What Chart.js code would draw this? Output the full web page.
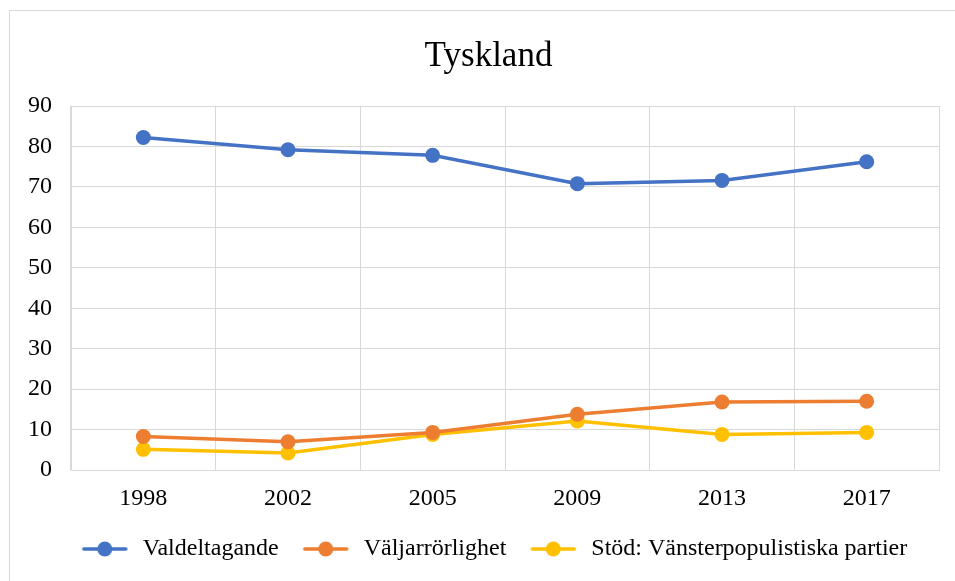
<!DOCTYPE html>
<html>
<head>
<meta charset="utf-8">
<script src="https://cdn.jsdelivr.net/npm/chart.js@4/dist/chart.umd.min.js"></script>
<style>
  html, body { margin: 0; padding: 0; background: #ffffff; }
  #wrap { position: relative; width: 955px; height: 581px; overflow: hidden; }
  #frame { position: absolute; left: 9px; top: 10px; width: 960px; height: 600px; border: 1px solid #d9d9d9; box-sizing: border-box; }
  canvas { position: absolute; left: 0; top: 0; }
</style>
</head>
<body>
<div id="wrap">
  <div id="frame"></div>
  <canvas id="c" width="955" height="581"></canvas>
</div>
<script>
const years = ["1998", "2002", "2005", "2009", "2013", "2017"];
const valdeltagande = [82.2, 79.2, 77.8, 70.8, 71.6, 76.2];
const valjarrorlighet = [8.3, 7.0, 9.3, 13.8, 16.8, 17.0];
const vansterpopulism = [5.1, 4.2, 8.8, 12.1, 8.8, 9.3];
const seriesNames = ["Valdeltagande", "Väljarrörlighet", "Stöd: Vänsterpopulistiska partier"];
const yTicks = [0, 10, 20, 30, 40, 50, 60, 70, 80, 90];
const colors = ["#4472C4", "#ED7D31", "#FFC000"];

// legend marker: line with dot, with a transparent margin left (item spacing) and right (gap to text)
function legendMarker(color) {
  const cv = document.createElement('canvas');
  cv.width = 61; cv.height = 18;
  const g = cv.getContext('2d');
  g.strokeStyle = color; g.lineWidth = 3.5; g.lineCap = 'round';
  g.beginPath(); g.moveTo(14, 9); g.lineTo(56, 9); g.stroke();
  g.fillStyle = color;
  g.beginPath(); g.arc(35, 9, 7.5, 0, Math.PI * 2); g.fill();
  return cv;
}
const markers = colors.map(legendMarker);

const serif = "'Liberation Serif', 'Times New Roman', serif";
const seriesData = [valdeltagande, valjarrorlighet, vansterpopulism];

const shiftPlugin = {
  id: 'shiftBlocks',
  afterLayout(chart) {
    const dx = 19;
    [chart.titleBlock, chart.legend].forEach(b => {
      if (b) { b.left += dx; b.right += dx; }
    });
  }
};

new Chart(document.getElementById('c'), {
  type: 'line',
  data: {
    labels: years,
    datasets: seriesData.map((d, i) => ({
      label: seriesNames[i],
      data: d,
      borderColor: colors[i],
      backgroundColor: colors[i],
      borderWidth: 3.5,
      pointRadius: 7.5,
      pointHoverRadius: 7.5,
      pointBorderWidth: 0,
      pointStyle: 'circle',
      tension: 0,
      fill: false
    }))
  },
  plugins: [shiftPlugin],
  options: {
    responsive: false,
    animation: false,
    events: [],
    layout: { padding: { left: 0, right: 16, top: 0, bottom: 10 } },
    plugins: {
      title: {
        display: true,
        text: 'Tyskland',
        color: '#000000',
        font: { family: serif, size: 35, weight: 'normal' },
        padding: { top: 36, bottom: 28 }
      },
      legend: {
        position: 'bottom',
        labels: {
          color: '#000000',
          font: { family: serif, size: 24 },
          usePointStyle: true,
          pointStyleWidth: 61,
          padding: 12,
          generateLabels(chart) {
            return chart.data.datasets.map((ds, i) => ({
              text: ds.label,
              fillStyle: ds.backgroundColor,
              strokeStyle: ds.borderColor,
              lineWidth: 0,
              pointStyle: markers[i],
              hidden: false,
              datasetIndex: i,
              fontColor: '#000000'
            }));
          }
        }
      },
      tooltip: { enabled: false }
    },
    scales: {
      x: {
        offset: true,
        grid: { offset: true, color: '#d9d9d9', lineWidth: 1, drawTicks: false },
        border: { color: '#d9d9d9', width: 1 },
        ticks: { color: '#000000', font: { family: serif, size: 24 }, padding: 14, maxRotation: 0 },
        afterFit(scale) { scale.height = 55; }
      },
      y: {
        min: 0,
        max: 90,
        afterBuildTicks(scale) { scale.ticks = yTicks.map(v => ({ value: v })); },
        grid: { color: '#d9d9d9', lineWidth: 1, drawTicks: false },
        border: { color: '#d9d9d9', width: 1 },
        ticks: { color: '#000000', font: { family: serif, size: 24 }, padding: 19 },
        afterFit(scale) { scale.width = 71; }
      }
    }
  }
});
</script>
</body>
</html>
